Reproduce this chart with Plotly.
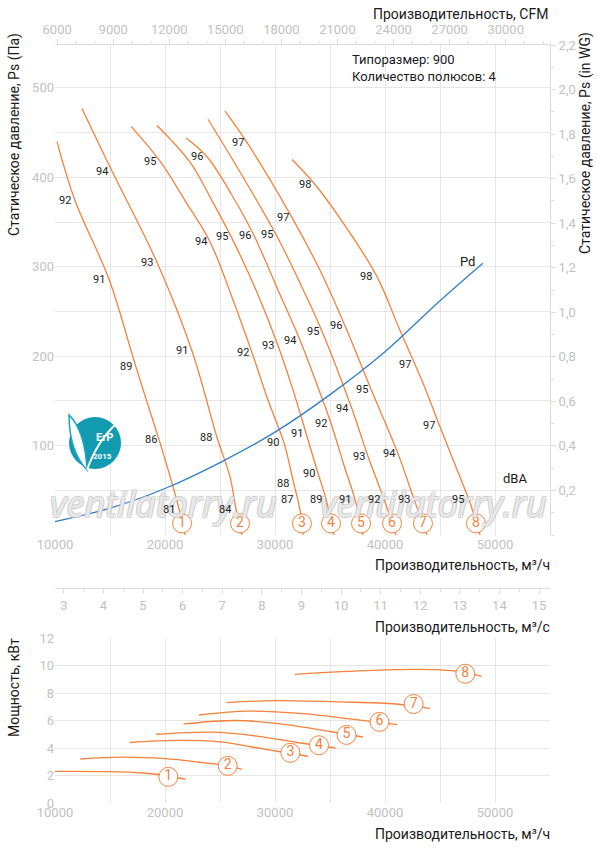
import plotly.graph_objects as go

W, H = 597, 850

ORANGE = "#f5823c"
BLUE = "#2f7fc8"
GRID = "#e6e6e6"
TICK = "#c2c2c2"
FONT = "Roboto"

# --- fan curves: static pressure (Pa) vs airflow (m3/h) ---
fan_ids = ["1", "2", "3", "4", "5", "6", "7", "8"]
fan_q = [
    [10180, 11820, 14910, 17360, 19550, 20730, 21360, 21820],
    [12450, 15180, 19270, 22450, 24730, 25910, 26450, 27000],
    [16910, 19550, 21820, 24090, 26090, 27910, 29360, 30820, 31640, 32270, 32550],
    [19270, 22270, 24270, 26000, 28270, 30270, 31640, 32820, 33910, 34640, 35360],
    [21910, 23820, 26090, 28090, 30270, 32270, 33820, 35090, 36270, 37270, 38000],
    [23910, 26820, 30090, 32270, 34270, 37000, 38450, 39910, 41000],
    [25450, 27450, 31550, 34090, 36360, 38730, 41180, 42640, 43820],
    [31550, 33640, 36360, 39270, 41360, 43450, 45000, 46550, 47730, 48640],
]
fan_p = [
    [440, 374, 286, 188, 103, 54, 25, 0],
    [477, 407, 305, 206, 109, 65, 29, 0],
    [457, 418, 374, 328, 266, 204, 151, 103, 61, 28, 0],
    [458, 417, 374, 334, 274, 212, 162, 114, 69, 40, 0],
    [444, 423, 380, 335, 274, 218, 168, 125, 78, 40, 0],
    [465, 406, 336, 282, 228, 141, 88, 40, 0],
    [474, 439, 355, 296, 234, 163, 91, 40, 0],
    [420, 392, 346, 289, 229, 170, 121, 73, 36, 0],
]
fan_mark_q = [21550, 26820, 32450, 35090, 37820, 40640, 43450, 48270]
fan_mark_p = [13, 13, 13, 13, 13, 13, 13, 13]

# dynamic pressure line
pd_q = [10000, 15000, 20000, 25000, 30000, 35000, 40000, 45000, 48900]
pd_p = [15, 30, 52, 81, 115, 157, 205, 262, 304]

# noise levels (dBA) along the curves
dba_q = [10910, 14270, 18640, 22910, 26640, 32730,
         14000, 18360, 23270, 25180, 27270, 29270, 30730, 38270,
         16450, 21550, 27090, 29360, 31360, 33450, 35550, 41820,
         18730, 23730, 29820, 32000, 34180, 36090, 37910, 44000,
         30730, 33090, 37640, 40360,
         20360, 25450, 31090, 33730, 36360, 39000, 41730, 46640]
dba_p = [374, 407, 418, 423, 439, 392,
         286, 305, 328, 334, 335, 336, 355, 289,
         188, 206, 204, 212, 218, 228, 234, 191,
         107, 109, 103, 114, 125, 141, 163, 122,
         58, 69, 88, 91,
         29, 29, 40, 40, 40, 40, 40, 40]
dba_txt = ["92", "94", "95", "96", "97", "98",
           "91", "93", "94", "95", "96", "95", "97", "98",
           "89", "91", "92", "93", "94", "95", "96", "97",
           "86", "88", "90", "91", "92", "94", "95", "97",
           "88", "90", "93", "94",
           "81", "84", "87", "89", "91", "92", "93", "95"]

# --- power curves: kW vs airflow (m3/h) ---
pow_q = [
    [10000, 15000, 18000, 20000, 21900],
    [12300, 16000, 20000, 23000, 25700, 27000],
    [16800, 21000, 25000, 28500, 31400, 33000],
    [19200, 24500, 28500, 32000, 35500],
    [21700, 26500, 31000, 35000, 38000],
    [23100, 27500, 32500, 37000, 41100],
    [25600, 30000, 36000, 41000, 44100],
    [31800, 36000, 41000, 45000, 47300, 48800],
]
pow_kw = [
    [2.30, 2.28, 2.18, 2.0, 1.72],
    [3.2, 3.33, 3.22, 2.98, 2.7, 2.45],
    [4.4, 4.55, 4.45, 4.0, 3.6, 3.4],
    [5.0, 5.15, 4.85, 4.4, 4.0],
    [5.75, 6.0, 5.7, 5.2, 4.8],
    [6.4, 6.68, 6.5, 6.1, 5.7],
    [7.3, 7.44, 7.35, 7.2, 6.88],
    [9.35, 9.55, 9.7, 9.68, 9.5, 9.2],
]
pow_mark_q = [20300, 25700, 31400, 34000, 36500, 39500, 42600, 47300]
pow_mark_kw = [1.9, 2.7, 3.65, 4.2, 4.95, 5.9, 7.2, 9.4]

q_ticks = [10000, 20000, 30000, 40000, 50000]
cfm_ticks = list(range(6000, 30001, 3000))
m3s_ticks = list(range(3, 16))
inwg_ticks = [0.2, 0.4, 0.6, 0.8, 1.0, 1.2, 1.4, 1.6, 1.8, 2.0, 2.2]

CFM = 0.588578  # m3/h -> CFM
INWG = 249.089  # Pa per inch WG
Q_MIN, Q_MAX = 10000, 55000
P_MAX = 548


def px(x, y):
    return x / W, 1 - y / H


fig = go.Figure()

for q, p in zip(fan_q, fan_p):
    fig.add_trace(go.Scatter(x=q, y=p, mode="lines", line=dict(color=ORANGE, width=1.3, shape="spline"),
                             xaxis="x", yaxis="y", hoverinfo="skip"))
fig.add_trace(go.Scatter(x=pd_q, y=pd_p, mode="lines", line=dict(color=BLUE, width=1.3, shape="spline"),
                         xaxis="x", yaxis="y"))
fig.add_trace(go.Scatter(x=fan_mark_q, y=fan_mark_p, mode="markers+text", text=fan_ids,
                         marker=dict(size=19, color="white", line=dict(color=ORANGE, width=1)),
                         textfont=dict(size=14, color=ORANGE, family=FONT), textposition="middle center",
                         xaxis="x", yaxis="y"))

# invisible traces so the secondary scales are drawn
fig.add_trace(go.Scatter(x=[Q_MIN * CFM, Q_MAX * CFM], y=[0, 0], xaxis="x2", yaxis="y",
                         mode="markers", marker=dict(opacity=0), hoverinfo="skip"))
fig.add_trace(go.Scatter(x=[Q_MIN / 3600, Q_MAX / 3600], y=[0, 0], xaxis="x3", yaxis="y",
                         mode="markers", marker=dict(opacity=0), hoverinfo="skip"))
fig.add_trace(go.Scatter(x=[Q_MIN, Q_MAX], y=[0, 0], xaxis="x", yaxis="y2",
                         mode="markers", marker=dict(opacity=0), hoverinfo="skip"))

for q, k in zip(pow_q, pow_kw):
    fig.add_trace(go.Scatter(x=q, y=k, mode="lines", line=dict(color=ORANGE, width=1.3, shape="spline"),
                             xaxis="x4", yaxis="y3"))
fig.add_trace(go.Scatter(x=pow_mark_q, y=pow_mark_kw, mode="markers+text", text=fan_ids,
                         marker=dict(size=19, color="white", line=dict(color=ORANGE, width=1)),
                         textfont=dict(size=14, color=ORANGE, family=FONT), textposition="middle center",
                         xaxis="x4", yaxis="y3"))

xdom = [55 / W, 550 / W]
tick_font = dict(size=13, color=TICK, family=FONT)
LINE = "#dcdcdc"
common_x = dict(domain=xdom, range=[Q_MIN, Q_MAX], tickvals=q_ticks, ticktext=[str(v) for v in q_ticks],
                showgrid=True, gridcolor=GRID, zeroline=False, tickfont=tick_font,
                minor=dict(dtick=5000, showgrid=True, gridcolor=GRID), ticks="", showline=False)

fig.update_layout(
    width=W, height=H, margin=dict(l=0, r=0, t=0, b=0, autoexpand=False),
    paper_bgcolor="white", plot_bgcolor="white", showlegend=False,
    font=dict(family=FONT, color="#222"),
    xaxis=dict(common_x, anchor="y"),
    yaxis=dict(domain=[1 - 535 / H, 1 - 45 / H], range=[0, P_MAX], tickvals=[100, 200, 300, 400, 500],
               showgrid=True, gridcolor=GRID, zeroline=False, tickfont=tick_font, anchor="x",
               minor=dict(dtick=50, showgrid=True, gridcolor=GRID)),
    yaxis2=dict(overlaying="y", side="right", anchor="x", range=[0, P_MAX / INWG],
                tickvals=inwg_ticks, ticktext=[f"{v:.1f}".replace(".", ",") for v in inwg_ticks],
                showgrid=False, zeroline=False, tickfont=tick_font, showline=True, linecolor=LINE,
                ticks="outside", ticklen=5, tickcolor=LINE,
                minor=dict(dtick=0.1, ticks="outside", ticklen=3, tickcolor=LINE)),
    xaxis2=dict(overlaying="x", side="top", anchor="y", range=[Q_MIN * CFM, Q_MAX * CFM],
                tickvals=cfm_ticks, ticktext=[str(v) for v in cfm_ticks],
                showgrid=False, zeroline=False, tickfont=tick_font,
                showline=True, linecolor=LINE, ticks="outside", ticklen=5, tickcolor=LINE,
                minor=dict(dtick=1000, ticks="outside", ticklen=3, tickcolor=LINE)),
    xaxis3=dict(overlaying="x", anchor="free", position=1 - 588 / H, side="bottom",
                range=[Q_MIN / 3600, Q_MAX / 3600], tickvals=m3s_ticks, showgrid=False,
                zeroline=False, tickfont=tick_font, showline=True, linecolor=LINE,
                ticks="outside", ticklen=5, tickcolor=LINE,
                minor=dict(dtick=0.5, ticks="outside", ticklen=3, tickcolor=LINE)),
    xaxis4=dict(common_x, anchor="y3"),
    yaxis3=dict(domain=[1 - 803 / H, 1 - 638 / H], range=[0, 12], dtick=2, anchor="x4",
                showgrid=True, gridcolor=GRID, zeroline=False, tickfont=tick_font),
)

# white box behind the size info
bx0, by0 = px(345, 46)
bx1, by1 = px(549, 100)
fig.add_shape(type="rect", xref="paper", yref="paper", x0=bx0, x1=bx1, y0=by1, y1=by0,
              fillcolor="white", line=dict(width=0), layer="between")

# ErP logo
fig.add_shape(type="circle", xref="x", yref="y", xsizemode="pixel", ysizemode="pixel",
              xanchor=13640, yanchor=103, x0=-26, x1=26, y0=-26, y1=26,
              fillcolor="#129bb0", line=dict(width=0), layer="above")
fig.add_shape(type="path", xref="x", yref="y", xsizemode="pixel", ysizemode="pixel",
              xanchor=13640, yanchor=103,
              path="M -8,-27 Q -26,-8 -26,28 Q -10,12 -8,-27 Z",
              fillcolor="white", line=dict(color="#19a8c4", width=1.5), layer="above")
fig.add_shape(type="path", xref="x", yref="y", xsizemode="pixel", ysizemode="pixel",
              xanchor=13640, yanchor=103,
              path="M -8,-27 Q 2,2 22,20",
              line=dict(color="white", width=2), layer="above")

ann = []


def text(x, y, s, size=14, color="#1a1a1a", xanchor="center", angle=0):
    xp, yp = px(x, y)
    ann.append(dict(x=xp, y=yp, xref="paper", yref="paper", text=s, showarrow=False,
                    xanchor=xanchor, yanchor="middle", textangle=angle,
                    font=dict(size=size, color=color, family=FONT)))


# watermark first, so the dBA labels sit on top of it
wm = dict(size=36, color="rgba(255,255,255,0.6)", style="italic",
          shadow="-1px -1px 0 #c4c4c4, 1px -1px 0 #c4c4c4, -1px 1px 0 #c4c4c4, 1px 1px 0 #c4c4c4")
for cx in (163, 433):
    xp, yp = px(cx, 503)
    ann.append(dict(x=xp, y=yp, xref="paper", yref="paper", text="ventilatorry.ru", showarrow=False,
                    font=dict(family="Open Sans", **wm), xanchor="center", yanchor="middle"))

for q, p, s in zip(dba_q, dba_p, dba_txt):
    ann.append(dict(x=q, y=p, xref="x", yref="y", text=s, showarrow=False,
                    font=dict(size=11, color="#222", family=FONT)))

text(550, 14, "Производительность, CFM", xanchor="right")
text(14, 135, "Статическое давление, Ps (Па)", angle=-90)
text(586, 143, "Статическое давление, Ps (in WG)", angle=-90)
text(552, 565, "Производительность, м³/ч", xanchor="right")
text(552, 627, "Производительность, м³/с", xanchor="right")
text(14, 688, "Мощность, кВт", angle=-90)
text(552, 834, "Производительность, м³/ч", xanchor="right")
text(350, 59, "Типоразмер: 900", size=13, xanchor="left")
text(350, 77, "Количество полюсов: 4", size=13, xanchor="left")
text(467, 261, "Pd", size=13)
text(515, 479, "dBA", size=13)
text(104, 437, "<b>ErP</b>", size=11, color="white")
text(102, 457, "<b>2015</b>", size=8, color="white")

fig.update_layout(annotations=ann)

fig.write_html("out.html", config={"displayModeBar": False},
               post_script="document.body.style.margin='0';")
